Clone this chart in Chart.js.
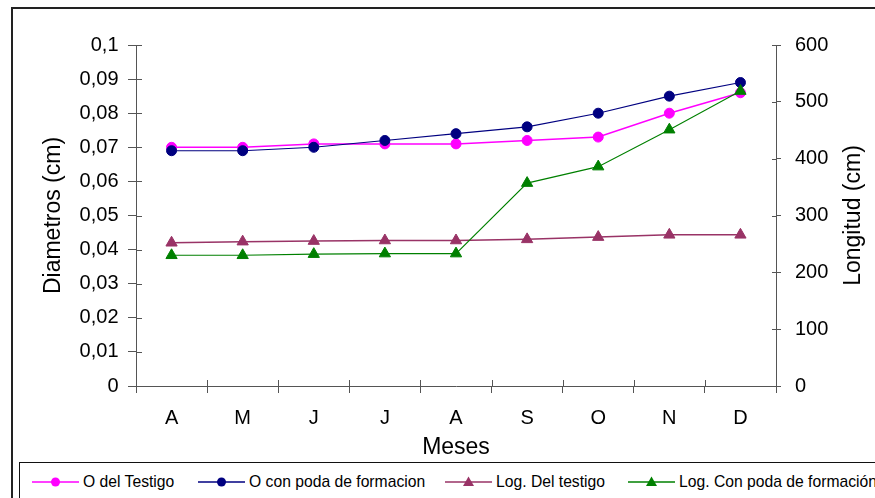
<!DOCTYPE html>
<html>
<head>
<meta charset="utf-8">
<script src="https://cdn.jsdelivr.net/npm/chart.js@4/dist/chart.umd.min.js"></script>
<style>
  html, body { margin: 0; padding: 0; background: #fff; overflow: hidden; }
  #wrap { position: relative; width: 875px; height: 498px; font-family: "Liberation Sans", Arial, sans-serif; }
  #frame { position: absolute; left: 11px; top: 7px; width: 920px; height: 540px; border: 2px solid #222; box-sizing: border-box; }
  #c { position: absolute; left: 0; top: 0; }
  #legend { position: absolute; left: 19px; top: 462px; width: 920px; height: 60px; border: 1px solid #111; box-sizing: border-box; background: #fff; }
  .item { position: absolute; top: 9px; height: 20px; display: flex; align-items: center; font-size: 15.7px; color: #000; white-space: nowrap; }
  .item svg { margin-right: 4px; }
</style>
</head>
<body>
<div id="wrap">
  <div id="frame"></div>
  <canvas id="c" width="875" height="498"></canvas>
  <div id="legend"></div>
</div>
<script>
// Months (April to December)
const months = ['A', 'M', 'J', 'J', 'A', 'S', 'O', 'N', 'D'];

// Diameters (cm), left axis
const diamTestigo = [0.070, 0.070, 0.071, 0.071, 0.071, 0.072, 0.073, 0.080, 0.086];
const diamPoda    = [0.069, 0.069, 0.070, 0.072, 0.074, 0.076, 0.080, 0.085, 0.089];

// Lengths (cm), right axis
const longTestigo = [252, 254, 255, 256, 256, 258, 262, 266, 266];
const longPoda    = [230, 230, 232, 233, 233, 357, 386, 451, 519];

// Axis tick labels
const diamTickLabels = ['0', '0,01', '0,02', '0,03', '0,04', '0,05', '0,06', '0,07', '0,08', '0,09', '0,1'];
const longTickLabels = ['0', '100', '200', '300', '400', '500', '600'];

// Series names and axis titles
const seriesNames = ['O del Testigo', 'O con poda de formacion', 'Log. Del testigo', 'Log. Con poda de formación'];
const xTitle = 'Meses';
const leftTitle = 'Diametros (cm)';
const rightTitle = 'Longitud (cm)';

const DIAM_STEP = 0.01;
const LONG_STEP = 100;
const AXIS = '#555';
const FONT = '"Liberation Sans", Arial, sans-serif';
const TITLE_SIZE = 23;

Chart.defaults.font.family = FONT;
Chart.defaults.color = '#000';

const datasets = [
  { label: seriesNames[0], data: diamTestigo, yAxisID: 'y', borderColor: '#FF00FF', backgroundColor: '#FF00FF',
    borderWidth: 1.5, pointStyle: 'circle', pointRadius: 5, order: 4 },
  { label: seriesNames[1], data: diamPoda, yAxisID: 'y', borderColor: '#000080', backgroundColor: '#000080',
    borderWidth: 1.1, pointStyle: 'circle', pointRadius: 5, order: 3 },
  { label: seriesNames[2], data: longTestigo, yAxisID: 'y1', borderColor: '#993366', backgroundColor: '#993366',
    borderWidth: 1.5, pointStyle: 'triangle', pointRadius: 6.5, order: 2 },
  { label: seriesNames[3], data: longPoda, yAxisID: 'y1', borderColor: '#008000', backgroundColor: '#008000',
    borderWidth: 1.1, pointStyle: 'triangle', pointRadius: 6.5, order: 1 }
];
datasets.forEach(d => { d.pointBorderWidth = 1; d.pointHoverRadius = d.pointRadius; d.tension = 0; d.fill = false; });

// Short tick segments on the plot side of each axis, so ticks cross the axis lines
const crossTicks = {
  id: 'crossTicks',
  beforeDatasetsDraw(chart) {
    const { ctx } = chart;
    const { x, y, y1 } = chart.scales;
    ctx.save();
    ctx.strokeStyle = AXIS;
    ctx.lineWidth = 1;
    ctx.beginPath();
    y.ticks.forEach((t, i) => {
      const p = Math.round(y.getPixelForTick(i)) + 0.5;
      ctx.moveTo(y.right, p); ctx.lineTo(y.right + 6, p);
    });
    y1.ticks.forEach((t, i) => {
      const p = Math.round(y1.getPixelForTick(i)) + 0.5;
      ctx.moveTo(y1.left - 4, p); ctx.lineTo(y1.left, p);
    });
    const n = x.ticks.length;
    const step = (x.right - x.left) / n;
    for (let i = 0; i <= n; i++) {
      const p = Math.round(x.left + i * step) + 0.5;
      ctx.moveTo(p, x.top); ctx.lineTo(p, x.top - 6);
    }
    ctx.stroke();
    ctx.restore();
  }
};

// Right axis title, reading bottom to top like the left one
const rightAxisTitle = {
  id: 'rightAxisTitle',
  afterDraw(chart) {
    const { ctx, chartArea } = chart;
    const s = chart.scales.y1;
    const lh = TITLE_SIZE * 1.2;
    const cx = s.right - 8 - lh / 2;
    const cy = (chartArea.top + chartArea.bottom) / 2;
    ctx.save();
    ctx.translate(cx, cy);
    ctx.rotate(-Math.PI / 2);
    ctx.font = `${TITLE_SIZE}px ${FONT}`;
    ctx.fillStyle = '#000';
    ctx.textAlign = 'center';
    ctx.textBaseline = 'middle';
    ctx.fillText(rightTitle, 0, 0);
    ctx.restore();
  }
};

new Chart(document.getElementById('c'), {
  type: 'line',
  data: { labels: months, datasets },
  options: {
    responsive: false,
    animation: false,
    events: [],
    layout: { padding: { top: 45, bottom: 32, left: 0, right: 0 } },
    plugins: { legend: { display: false }, tooltip: { enabled: false } },
    scales: {
      x: {
        type: 'category',
        offset: true,
        grid: { offset: true, drawOnChartArea: false, drawTicks: true, tickLength: 7, color: AXIS },
        border: { display: true, color: AXIS, width: 1 },
        ticks: { font: { size: 20 }, color: '#000', padding: 13, maxRotation: 0, autoSkip: false },
        title: { display: true, text: xTitle, font: { size: TITLE_SIZE }, color: '#000', padding: { top: 0, bottom: 4.5 } },
        afterFit(s) { s.height = 80; }
      },
      y: {
        position: 'left',
        min: 0, max: 0.1,
        grid: { drawOnChartArea: false, drawTicks: true, tickLength: 8, color: AXIS },
        border: { display: true, color: AXIS, width: 1 },
        ticks: { stepSize: DIAM_STEP, font: { size: 20 }, color: '#000', padding: 9.5,
                 callback: v => diamTickLabels[Math.round(v / DIAM_STEP)] },
        title: { display: true, text: leftTitle, font: { size: TITLE_SIZE }, color: '#000', padding: { top: 40, bottom: 0 } },
        afterFit(s) { s.width = 136; }
      },
      y1: {
        position: 'right',
        min: 0, max: 600,
        grid: { drawOnChartArea: false, drawTicks: true, tickLength: 5, color: AXIS },
        border: { display: true, color: AXIS, width: 1 },
        ticks: { stepSize: LONG_STEP, font: { size: 20 }, color: '#000', padding: 14,
                 callback: v => longTickLabels[Math.round(v / LONG_STEP)] },
        title: { display: false },
        afterFit(s) { s.width = 99; }
      }
    }
  },
  plugins: [crossTicks, rightAxisTitle]
});

// Legend: line sample with marker, then series name
const legendX = [12, 178, 425, 608];
const legend = document.getElementById('legend');
datasets.forEach((d, i) => {
  const item = document.createElement('div');
  item.className = 'item';
  item.style.left = legendX[i] + 'px';
  const c = d.borderColor;
  const marker = d.pointStyle === 'circle'
    ? `<circle cx="23.5" cy="7" r="4.5" fill="${c}"/>`
    : `<polygon points="23.5,1.5 29,11 18,11" fill="${c}"/>`;
  item.innerHTML = `<svg width="47" height="14" viewBox="0 0 47 14"><line x1="0" y1="7" x2="47" y2="7" stroke="${c}" stroke-width="1.5"/>${marker}</svg>`;
  const span = document.createElement('span');
  span.textContent = d.label;
  item.appendChild(span);
  legend.appendChild(item);
});
</script>
</body>
</html>
